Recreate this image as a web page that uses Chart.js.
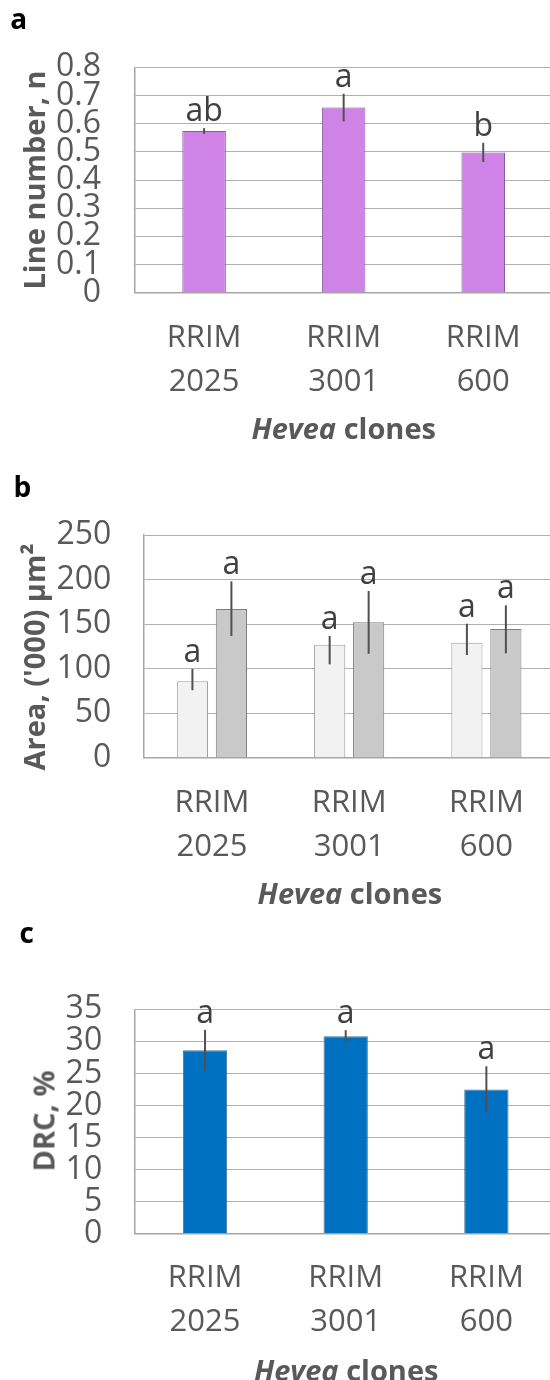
<!DOCTYPE html>
<html>
<head>
<meta charset="utf-8">
<script src="https://cdn.jsdelivr.net/npm/chart.js@4"></script>
<style>
  html, body { margin: 0; padding: 0; width: 550px; height: 1380px; overflow: hidden; background: #fff; }
  canvas { position: absolute; left: 0; }
  .lbl { position: absolute; font: bold 28px 'Open Sans', sans-serif; line-height: 1; color: #000; z-index: 2; }
  .ytitle { position: absolute; transform: translate(-50%, -50%) rotate(-90deg); white-space: nowrap;
            font: bold 29px 'Open Sans', sans-serif; line-height: 1; color: #595959; z-index: 2; }
  .xtitle { position: absolute; transform: translate(-50%, -50%); white-space: nowrap;
            font: bold 29px 'Open Sans', sans-serif; line-height: 1; color: #595959; z-index: 2; }
</style>
</head>
<body>
<div class="lbl" style="left:10.3px; top:4.4px;">a</div>
<div class="lbl" style="left:13.6px; top:472.1px;">b</div>
<div class="lbl" style="left:19.6px; top:918.1px;">c</div>

<div class="ytitle" style="left:32.7px; top:180px;">Line number, n</div>
<div class="ytitle" style="left:33px; top:656.7px;">Area, ('000) µm²</div>
<div class="ytitle" style="left:42.8px; top:1120.8px;">DRC, %</div>

<div class="xtitle" style="left:343.7px; top:427px;"><i>Hevea</i> clones</div>
<div class="xtitle" style="left:349.9px; top:892.3px;"><i>Hevea</i> clones</div>
<div class="xtitle" style="left:346.2px; top:1369.3px;"><i>Hevea</i> clones</div>

<canvas id="cA" width="570" height="420" style="top:0px;"></canvas>
<canvas id="cB" width="570" height="420" style="top:460px;"></canvas>
<canvas id="cC" width="570" height="460" style="top:920px;"></canvas>

<script>
// ---------- data ----------
const clones = ['RRIM 2025', 'RRIM 3001', 'RRIM 600'];

// Panel a: line number
const lineNumber      = [0.574, 0.657, 0.498];
const lineNumberErr   = [0.010, 0.049, 0.034];
const lineNumberSig   = ['ab', 'a', 'b'];
const yTicksA         = [0, 0.1, 0.2, 0.3, 0.4, 0.5, 0.6, 0.7, 0.8];

// Panel b: area ('000 µm²), two series per clone
const areaLight       = [85.8, 126.9, 129.1];
const areaLightErrUp  = [13.8, 9.7, 21.3];
const areaLightErrDn  = [10.1, 22.1, 13.8];
const areaLightSig    = ['a', 'a', 'a'];
const areaDark        = [166.9, 152.0, 144.5];
const areaDarkErrUp   = [31.1, 35.1, 26.5];
const areaDarkErrDn   = [30.3, 35.3, 27.3];
const areaDarkSig     = ['a', 'a', 'a'];
const yTicksB         = [0, 50, 100, 150, 200, 250];

// Panel c: DRC %
const drc             = [28.6, 30.8, 22.5];
const drcErr          = [3.2, 0.95, 3.6];
const drcSig          = ['a', 'a', 'a'];
const yTicksC         = [0, 5, 10, 15, 20, 25, 30, 35];

// ---------- chart setup ----------
Chart.defaults.font.family = "'Open Sans', sans-serif";
Chart.defaults.color = '#595959';

const errLetters = {
  id: 'errLetters',
  afterDatasetsDraw(chart) {
    const ctx = chart.ctx;
    const ys = chart.scales.y;
    chart.data.datasets.forEach((ds, i) => {
      const meta = chart.getDatasetMeta(i);
      meta.data.forEach((bar, j) => {
        const v = ds.data[j];
        const top = ys.getPixelForValue(v + ds.errUp[j]);
        const bot = ys.getPixelForValue(v - ds.errDn[j]);
        ctx.save();
        ctx.strokeStyle = '#505050';
        ctx.lineWidth = 2;
        ctx.beginPath();
        ctx.moveTo(bar.x, top);
        ctx.lineTo(bar.x, bot);
        ctx.stroke();
        ctx.font = "32px 'Open Sans', sans-serif";
        ctx.fillStyle = '#404040';
        ctx.textAlign = 'center';
        ctx.textBaseline = 'alphabetic';
        ctx.fillText(ds.letters[j], bar.x, top - 7);
        ctx.restore();
      });
    });
  }
};

function makeChart(id, cfg) {
  const ticks = cfg.yTicks;
  return new Chart(document.getElementById(id), {
    type: 'bar',
    data: {
      labels: clones.map(c => c.split(' ')),
      datasets: cfg.datasets
    },
    options: {
      responsive: false,
      animation: false,
      events: [],
      layout: { padding: { top: cfg.top, right: cfg.padR, left: 0, bottom: 0 } },
      plugins: { legend: { display: false }, tooltip: { enabled: false } },
      scales: {
        x: {
          grid: { display: false, drawTicks: false },
          border: { display: true, color: '#A6A6A6', width: 1.5 },
          ticks: { color: '#595959', font: { size: 31, lineHeight: 1.397 }, padding: cfg.xPad,
                   maxRotation: 0, minRotation: 0, autoSkip: false },
          afterFit: s => { s.height = cfg.h - cfg.bottom; }
        },
        y: {
          min: ticks[0],
          max: ticks[ticks.length - 1],
          grid: { color: '#B0B0B0', lineWidth: 1, drawTicks: false },
          border: { display: true, color: '#A6A6A6', width: 1.5 },
          ticks: { color: '#595959', font: { size: 32, lineHeight: 1 }, padding: cfg.yPad,
                   autoSkip: false, callback: v => String(v) },
          afterBuildTicks: s => { s.ticks = ticks.map(v => ({ value: v })); },
          afterFit: s => { s.width = cfg.left; }
        }
      }
    },
    plugins: [errLetters]
  });
}

makeChart('cA', {
  h: 420, top: 67.3, bottom: 292.7, left: 134.3, padR: 17, xPad: 24.3, yPad: 33.3,
  yTicks: yTicksA,
  datasets: [{
    data: lineNumber, errUp: lineNumberErr, errDn: lineNumberErr, letters: lineNumberSig,
    backgroundColor: '#CF83E6', borderColor: '#8A5A9C', borderWidth: 1,
    categoryPercentage: 0.312, barPercentage: 1
  }]
});

makeChart('cB', {
  h: 420, top: 75, bottom: 297.7, left: 143.3, padR: 15, xPad: 24.3, yPad: 32,
  yTicks: yTicksB,
  datasets: [{
    data: areaLight, errUp: areaLightErrUp, errDn: areaLightErrDn, letters: areaLightSig,
    backgroundColor: '#F2F2F2', borderColor: '#A0A0A0', borderWidth: 1,
    categoryPercentage: 0.568, barPercentage: 0.8
  }, {
    data: areaDark, errUp: areaDarkErrUp, errDn: areaDarkErrDn, letters: areaDarkSig,
    backgroundColor: '#C9C9C9', borderColor: '#808080', borderWidth: 1,
    categoryPercentage: 0.568, barPercentage: 0.8
  }]
});

makeChart('cC', {
  h: 460, top: 89.3, bottom: 313.7, left: 134.7, padR: 13.3, xPad: 23.3, yPad: 32.5,
  yTicks: yTicksC,
  datasets: [{
    data: drc, errUp: drcErr, errDn: drcErr, letters: drcSig,
    backgroundColor: '#0070C0', borderColor: '#4A7396', borderWidth: 1,
    categoryPercentage: 0.315, barPercentage: 1
  }]
});
</script>
</body>
</html>
